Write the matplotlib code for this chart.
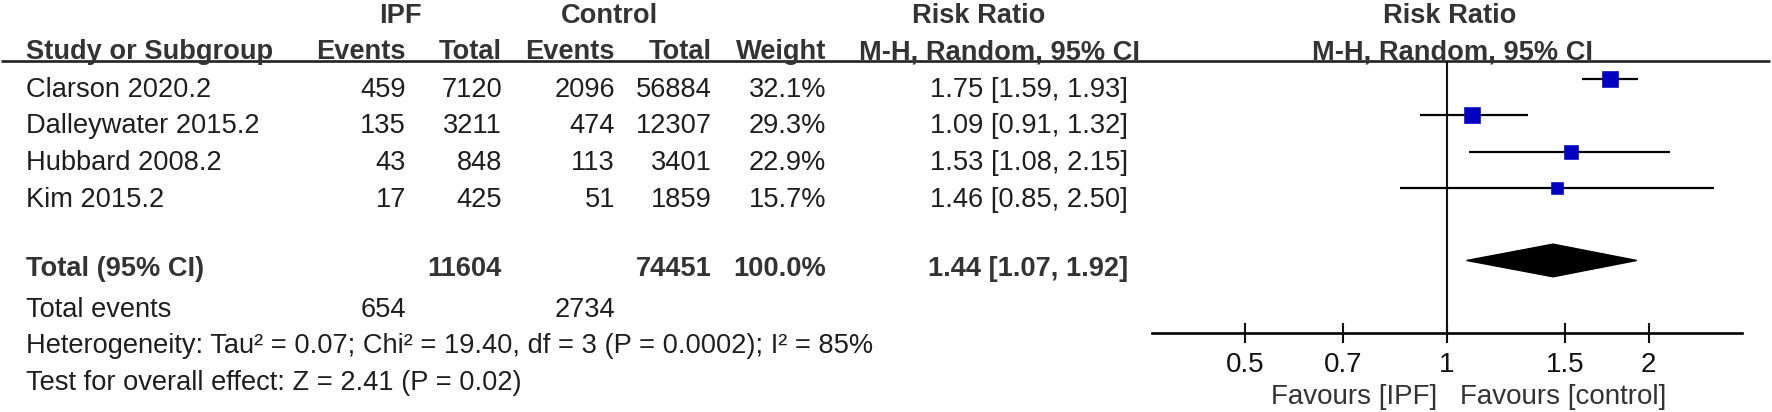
import matplotlib.pyplot as plt
from matplotlib.patches import Polygon

plt.rcParams['font.family'] = ['Liberation Sans', 'DejaVu Sans']

studies = ['Clarson 2020.2', 'Dalleywater 2015.2', 'Hubbard 2008.2', 'Kim 2015.2']
ipf_events = [459, 135, 43, 17]
ipf_total = [7120, 3211, 848, 425]
ctl_events = [2096, 474, 113, 51]
ctl_total = [56884, 12307, 3401, 1859]
weights = [32.1, 29.3, 22.9, 15.7]
rr = [1.75, 1.09, 1.53, 1.46]
rr_lo = [1.59, 0.91, 1.08, 0.85]
rr_hi = [1.93, 1.32, 2.15, 2.50]

pooled = 1.44
pooled_lo = 1.07
pooled_hi = 1.92
sum_ipf_total = 11604
sum_ctl_total = 74451
sum_ipf_events = 654
sum_ctl_events = 2734
heterogeneity = 'Heterogeneity: Tau² = 0.07; Chi² = 19.40, df = 3 (P = 0.0002); I² = 85%'
overall = 'Test for overall effect: Z = 2.41 (P = 0.02)'
ticks = [0.5, 0.7, 1, 1.5, 2]
tick_labels = ['0.5', '0.7', '1', '1.5', '2']

W, H = 1772, 412
fig = plt.figure(figsize=(W / 100, H / 100), dpi=100)

# text layer in pixel coordinates
tax = fig.add_axes([0, 0, 1, 1])
tax.set_xlim(0, W)
tax.set_ylim(H, 0)
tax.axis('off')

fs = 19.6
hc = '#333333'
bc = '#1e1e1e'

# column right edges
c_ev1, c_tot1, c_ev2, c_tot2, c_w, c_rr = 406, 502, 615, 712, 826, 1128

tax.text(400, 23, 'IPF', ha='center', va='baseline', fontsize=fs, fontweight='bold', color=hc)
tax.text(609, 23, 'Control', ha='center', va='baseline', fontsize=fs, fontweight='bold', color=hc)
tax.text(979, 23, 'Risk Ratio', ha='center', va='baseline', fontsize=fs, fontweight='bold', color=hc)
tax.text(1450, 23, 'Risk Ratio', ha='center', va='baseline', fontsize=fs, fontweight='bold', color=hc)

hy = 59
tax.text(26, hy, 'Study or Subgroup', ha='left', va='baseline', fontsize=fs, fontweight='bold', color=hc)
for x, s in [(c_ev1, 'Events'), (c_tot1, 'Total'), (c_ev2, 'Events'), (c_tot2, 'Total'), (c_w, 'Weight')]:
    tax.text(x, hy, s, ha='right', va='baseline', fontsize=fs, fontweight='bold', color=hc)
tax.text(1000, hy, 'M-H, Random, 95% CI', ha='center', va='baseline', fontsize=fs, fontweight='bold', color=hc)
tax.text(1453, hy, 'M-H, Random, 95% CI', ha='center', va='baseline', fontsize=fs, fontweight='bold', color=hc)
tax.plot([1, 1770], [61, 61], color='#222222', lw=1.9, solid_capstyle='butt')

row_base = [97, 133, 170, 207]
for i, name in enumerate(studies):
    y = row_base[i]
    tax.text(26, y, name, ha='left', va='baseline', fontsize=fs, color=bc)
    tax.text(c_ev1, y, str(ipf_events[i]), ha='right', va='baseline', fontsize=fs, color=bc)
    tax.text(c_tot1, y, str(ipf_total[i]), ha='right', va='baseline', fontsize=fs, color=bc)
    tax.text(c_ev2, y, str(ctl_events[i]), ha='right', va='baseline', fontsize=fs, color=bc)
    tax.text(c_tot2, y, str(ctl_total[i]), ha='right', va='baseline', fontsize=fs, color=bc)
    tax.text(c_w, y, f'{weights[i]:.1f}%', ha='right', va='baseline', fontsize=fs, color=bc)
    tax.text(c_rr, y, f'{rr[i]:.2f} [{rr_lo[i]:.2f}, {rr_hi[i]:.2f}]', ha='right', va='baseline',
             fontsize=fs, color=bc)

ty = 276
tax.text(26, ty, 'Total (95% CI)', ha='left', va='baseline', fontsize=fs, fontweight='bold', color=hc)
tax.text(c_tot1, ty, str(sum_ipf_total), ha='right', va='baseline', fontsize=fs, fontweight='bold', color=hc)
tax.text(c_tot2, ty, str(sum_ctl_total), ha='right', va='baseline', fontsize=fs, fontweight='bold', color=hc)
tax.text(c_w, ty, f'{sum(weights):.1f}%', ha='right', va='baseline', fontsize=fs, fontweight='bold', color=hc)
tax.text(c_rr, ty, f'{pooled:.2f} [{pooled_lo:.2f}, {pooled_hi:.2f}]', ha='right', va='baseline',
         fontsize=fs, fontweight='bold', color=hc)

tax.text(26, 317, 'Total events', ha='left', va='baseline', fontsize=fs, color=bc)
tax.text(c_ev1, 317, str(sum_ipf_events), ha='right', va='baseline', fontsize=fs, color=bc)
tax.text(c_ev2, 317, str(sum_ctl_events), ha='right', va='baseline', fontsize=fs, color=bc)
tax.text(26, 353, heterogeneity, ha='left', va='baseline', fontsize=fs, color=bc)
tax.text(26, 390, overall, ha='left', va='baseline', fontsize=fs, color=bc)

tax.text(1437, 397, 'Favours [IPF]', ha='right', va='center', fontsize=20, color=hc)
tax.text(1460, 397, 'Favours [control]', ha='left', va='center', fontsize=20, color=hc)

# forest panel
x0, x1, ytop, ybot = 1152, 1742, 61, 333
pax = fig.add_axes([x0 / W, (H - ybot) / H, (x1 - x0) / W, (ybot - ytop) / H])
pax.patch.set_alpha(0)
pax.set_xscale('log')
pax.set_xlim(0.3628, 2.757)
pax.set_ylim(7.0, -0.5)
for s in ['top', 'left', 'right']:
    pax.spines[s].set_visible(False)
pax.spines['bottom'].set_linewidth(1.9)
pax.set_yticks([])
pax.set_xticks(ticks)
pax.set_xticklabels(tick_labels)
pax.minorticks_off()
pax.tick_params(axis='x', direction='inout', length=14, width=1.5, pad=7, labelsize=20, colors='#111111')
pax.axvline(1, color='#111111', lw=1.5)

for i in range(len(studies)):
    pax.plot([rr_lo[i], rr_hi[i]], [i, i], color='black', lw=1.6, solid_capstyle='butt')
    side = 2.8 * weights[i] ** 0.5 * 0.72
    pax.plot(rr[i], i, marker='s', markersize=side, color='#0000c0', markeredgecolor='#1010d0',
             markeredgewidth=0.5, zorder=3)

dh = 0.45
pax.add_patch(Polygon([(pooled_lo, 5), (pooled, 5 - dh), (pooled_hi, 5), (pooled, 5 + dh)],
                      closed=True, color='black', zorder=3))

fig.savefig('out.png', dpi=100)
